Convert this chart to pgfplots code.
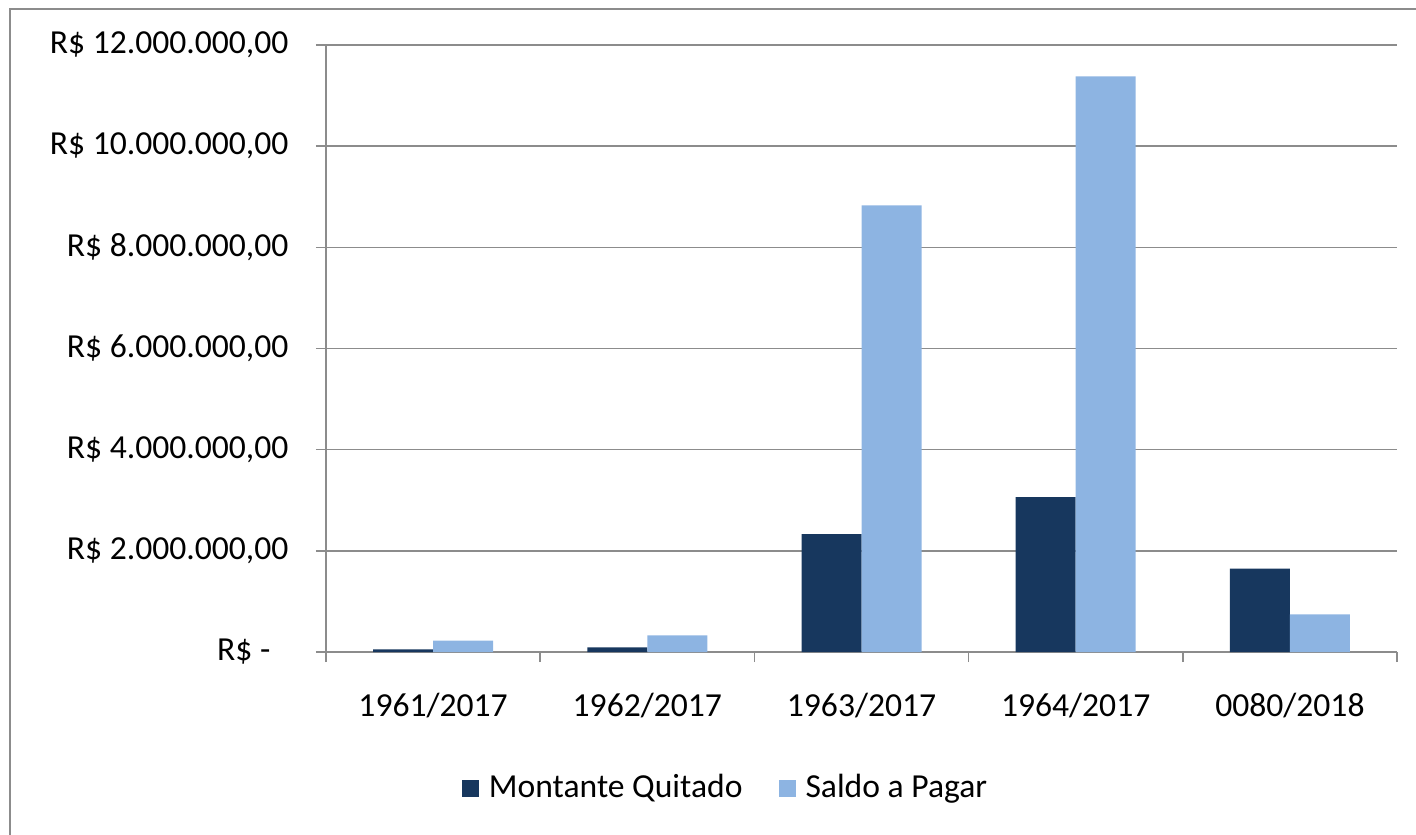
\documentclass[border=0pt]{standalone}
\usepackage{pgfplots}
\pgfplotsset{compat=1.18}
\usepackage{fontspec}
\setmainfont{Carlito}
\definecolor{dark}{HTML}{17375E}
\definecolor{light}{HTML}{8DB4E2}
\definecolor{gridc}{HTML}{8C8C8C}
\newcommand{\lf}{\fontsize{16.8}{20}\selectfont}
\begin{document}
\lf
\begin{tikzpicture}
\begin{axis}[
  at={(0,0)}, anchor=south west,
  scale only axis,
  width=535.5pt, height=303.5pt,
  xmin=-0.5, xmax=4.5,
  ymin=0, ymax=12000000,
  axis x line*=bottom, axis y line*=left,
  axis line style={gridc, line width=0.8pt},
  xtick={0,1,2,3,4},
  xticklabels={1961/2017,1962/2017,1963/2017,1964/2017,0080/2018},
  major x tick style={draw=none},
  minor xtick={-0.5,0.5,1.5,2.5,3.5,4.5},
  minor x tick style={gridc, line width=0.8pt},
  minor tick length=5pt,
  xticklabel style={yshift=-10pt, font=\lf},
  ytick={0,2000000,4000000,6000000,8000000,10000000,12000000},
  yticklabels={R\$ -\rule{9pt}{0pt},R\$ 2.000.000{,}00,R\$ 4.000.000{,}00,R\$ 6.000.000{,}00,R\$ 8.000.000{,}00,R\$ 10.000.000{,}00,R\$ 12.000.000{,}00},
  yticklabel style={font=\lf, xshift=-8pt},
  tick align=outside,
  major tick length=5pt,
  major y tick style={gridc, line width=0.8pt},
  ymajorgrids,
  grid style={gridc, line width=0.8pt},
  scaled y ticks=false,
  ybar, bar width=30pt,
  legend style={at={(0.374,-0.225)}, anchor=center, draw=none, legend columns=2,
    font=\lf,
    /tikz/every odd column/.append style={column sep=3pt},
    /tikz/every even column/.append style={column sep=16pt}},
  legend image code/.code={\fill[#1] (0pt,-4.25pt) rectangle (8.5pt,4.25pt);},
]
\addplot[fill=dark, draw=none, bar shift=-15pt] coordinates {(0,50000) (1,90000) (2,2330000) (3,3060000) (4,1650000)};
\addplot[fill=light, draw=none, bar shift=15pt] coordinates {(0,225000) (1,330000) (2,8830000) (3,11380000) (4,745000)};
\legend{Montante Quitado, Saldo a Pagar}
\end{axis}
\draw[gridc, line width=0.8pt] (-158pt,-100pt) -- (-158pt,321.5pt) -- (560pt,321.5pt);
\pgfresetboundingbox
\path[use as bounding box] (-163pt,-91pt) rectangle (545pt,326pt);
\end{tikzpicture}
\end{document}
